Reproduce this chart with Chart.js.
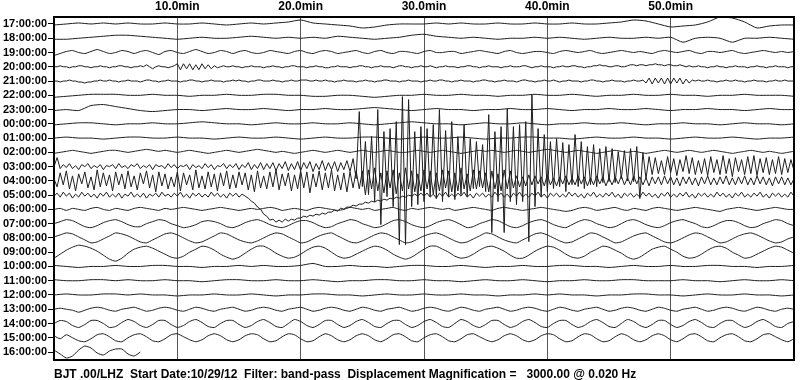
<!DOCTYPE html>
<html><head><meta charset="utf-8">
<script src="https://cdn.jsdelivr.net/npm/chart.js@4.4.0/dist/chart.umd.min.js"></script>
<style>html,body{margin:0;padding:0;background:#fff}</style>
</head><body>
<canvas id="c" width="800" height="380"></canvas>
<script>
// ---- DATA (pen displacement in pixels, positive = up) ----
const hourLabels = ["17:00:00","18:00:00","19:00:00","20:00:00","21:00:00","22:00:00","23:00:00","00:00:00","01:00:00","02:00:00","03:00:00","04:00:00","05:00:00","06:00:00","07:00:00","08:00:00","09:00:00","10:00:00","11:00:00","12:00:00","13:00:00","14:00:00","15:00:00","16:00:00"];
const minuteTicks = [10,20,30,40,50];
const minuteTickLabels = ["10.0min","20.0min","30.0min","40.0min","50.0min"];
const footerText = "BJT .00/LHZ  Start Date:10/29/12  Filter: band-pass  Displacement Magnification =   3000.00 @ 0.020 Hz";
// sample interval (minutes) of each row
const sampleMinutes = [1,1,0.5,0.25,0.25,1,1,1,1,0.5,0.25,0.25,0.25,0.5,0.5,0.5,0.5,1,1,1,0.5,0.5,0.5,0.5];

const h17 = [-1,0,1,0,1,0,1,0,0,1, 0,0,1,0,-1,0,1,0,1,2, 4,1,0,-1,-2,-4,-3,-1,0,0, 0,1,0,1,0,0,1,0,0,1, 0,0,1,0,0,1,2,4,3,0, -3,-2,-1,2,7,6,2,-4,-2,-1, -1];
const h18 = [-1,-1,0,1,2,3,3,2,1,0, -1,0,1,0,0,1,2,1,0,1, 0,1,0,2,1,0,-1,0,1,3, 4,2,1,0,1,0,-1,0,0,1, 0,1,0,-1,0,1,0,0,1,0, 1,-4,0,1,0,-4,0,0,1,0, -1];
const h19 = [-3,-1,1,2,0,-1,1,3,1,-1, 0,2,1,-1,1,2,0,-2,1,2, 0,-1,1,3,1,-1,0,2,1,-1, 1,2,0,-1,0,2,1,0,-1,1, 2,0,-1,1,2,1,-1,0,1,2, 0,-1,1,2,0,-1,1,1,0,-1, 1,2,0,0,1,1,-1,0,1,2, 1,0,-1,1,2,0,-1,0,1,1, 0,-1,1,2,1,0,1,2,0,-1, 0,1,2,1,0,1,0,-1,1,2, 1,0,1,2,0,-1,1,1,0,1, 2,0,-1,0,1,2,1,0,1,0, 1];
const h20 = [0,0,1,0,0,-1,0,0,1,1, 0,0,-1,0,0,1,0,0,-1,0, 0,1,1,0,0,-1,0,0,1,0, 2,0,-2,0,1,0,0,-1,0,1,
 3,-3,3,-2,3,-3,2,-3,3,-2, 2,-2,1,-1,0,1,0,0,1,0,
 0,-1,0,0,1,0,0,0,-1,0, 0,1,0,0,-1,0,0,1,1,0, 0,0,-1,0,0,1,0,0,-1,-1, 0,0,1,0,0,0,-1,0,0,1,
 1,0,0,-1,0,0,1,0,0,0, -1,0,1,1,0,0,-1,0,0,1, 0,0,1,0,-1,0,0,1,0,0, 0,-1,0,0,1,1,0,0,-1,0,
 0,1,0,0,0,-1,0,0,1,0, 0,0,1,1,0,-1,0,0,1,0, 0,0,-1,0,0,1,0,0,1,1, 0,0,-1,0,0,1,1,2,1,1,
 0,0,1,1,0,0,1,2,2,1, 2,2,1,2,2,3,2,2,1,2, 2,1,1,2,1,0,1,0,0,1, 0,0,-1,0,0,1,0,0,-1,0,
 0,1,0,0,0,-1,0,0,1,0, 0,-1,0,0,1,0,0,0,-1,0, 0];
const h21 = [0,0,-1,0,0,1,0,0,-1,-1, -2,-1,-1,0,0,1,0,0,1,0, 0,-1,0,0,1,0,0,0,-1,0, 1,1,0,0,-1,0,0,1,0,0,
 0,-1,0,0,1,1,0,0,-1,0, 0,1,0,0,0,-1,0,0,1,0, 1,0,0,-1,0,0,1,1,0,0, 0,1,0,0,-1,0,0,1,0,0,
 1,1,1,0,0,1,0,0,1,0, 0,-1,0,0,1,0,0,0,-1,0, 0,1,0,0,-1,0,0,1,1,0, 0,0,-1,0,0,1,0,0,0,-1,
 0,0,1,0,0,1,1,0,0,-1, 0,0,1,0,0,0,-1,0,0,1, 1,0,0,-1,0,0,1,0,0,0, -1,0,1,1,0,0,-1,0,0,1,
 0,0,1,0,-1,0,0,1,0,0, 0,-1,0,0,1,1,0,0,-1,0, 0,1,0,0,0,-1,0,0,1,0, 0,1,-2,3,-3,3,-2,3,-3,3,
 -3,3,-2,3,-3,2,-2,1,0,1, 0,0,1,0,0,-1,0,0,1,0, 0,1,0,0,-1,0,0,1,0,0, 0,-1,0,0,1,0,0,1,0,0, 0];
const h22 = [-2,-1,0,1,1,1,0,0,1,0, 0,-1,0,0,1,0,0,1,1,0, 0,-1,-1,0,0,-1,-2,-1,0,0, 1,0,0,1,0,0,-1,0,0,1, 0,0,1,0,-1,0,0,1,0,0, 1,0,0,-1,0,0,1,0,0,0, -1];
const h23 = [-1,0,-1,4,5,3,1,-1,-2,-1, 0,0,-1,0,1,0,0,1,0,-1, 0,0,1,0,0,1,2,1,0,-1, 0,1,0,0,-1,0,0,1,0,0, 1,0,-1,0,0,1,0,0,1,0, -1,0,0,1,0,0,-1,0,1,0, 0];
const h00 = [-1,0,1,1,0,-1,0,0,1,0, 0,1,2,1,0,0,-1,0,1,0, 0,1,0,0,1,0,-1,0,1,2, 1,0,0,-1,0,1,0,0,1,0, -1,0,0,1,0,0,1,0,-1,0, 0,1,0,0,-1,0,1,0,0,-1, 0];
const h01 = [0,1,0,0,-1,0,1,1,0,0, 1,0,0,-1,0,1,0,0,1,0, -1,0,1,0,0,1,1,0,-1,0, 1,0,0,1,0,-1,0,0,1,1, 0,0,-1,0,1,0,0,1,0,0, -1,0,1,0,0,1,0,-1,0,0, 1];
const h02 = [-1,0,1,2,1,0,-1,0,1,2, 2,1,0,1,2,3,2,1,2,1, 0,1,2,1,0,-1,0,1,2,1, 0,1,2,3,2,1,0,1,0,-1, 0,1,2,1,0,1,2,1,0,1, 2,1,0,1,2,1,0,0,1,2, 1,0,1,2,1,0,-1,0,1,2, 1,2,1,0,1,2,1,0,1,2, 3,2,1,0,1,2,1,0,-1,0, 1,2,1,0,1,0,-1,0,1,2, 1,0,1,2,1,0,1,2,1,0, -1,0,1,2,1,0,1,0,-1,0, 1];
const h03 = [0,9,-2,2,-1,3,-2,1,-3,2,0,3,-2,1,-1,2,-3,1,0,2,-2,3,-1,1,
 -2,2,0,3,-2,1,-1,2,-3,2,0,1,-2,3,-1,2,-2,1,0,2,-3,2,-1,1,
 -2,3,-1,2,-3,1,0,3,-2,2,-1,3,-3,2,-1,4,-3,2,-2,4,-3,3,-2,4,
 -4,3,-2,5,-4,3,-3,5,-4,4,-2,5,-5,3,-3,6,-4,4,-3,5,-5,4,-3,6,-5,
 8,-12,55,-20,25,-28,30,-35,57,-58,35,-30,38,-40,45,-78,70,-78,67,-40,35,-38,40,-35,38,-30,42,-32,57,-35,36,-30,45,-33,30,-28,42,-30,28,-22,25,-20,22,-25,52,-66,35,-35,40,-66,58,-35,40,-38,42,-35,45,-75,72,-40,38,-30,32,-25,
 25,-22,28,-20,24,-25,22,-18,32,-20,25,-22,20,-18,22,-20,18,-16,20,-15,18,-16,15,-12,16,-14,18,-15,20,-32,14,-12,
 10,-8,9,-7,6,-8,10,-6,8,-9,7,-5,11,-7,9,-8,6,-7,8,-9,10,-6,7,-8,11,-7,8,-10,9,-5,7,-8,10,-7,11,-9,8,-6,9,-8,7,-7,10,-8,8,-6,7,-4];
const h04 = [2,-6,8,-4,10,-8,5,-10,7,-3,9,-7,4,-9,11,-6,8,-5,6,-10,9,-4,7,-8,10,
 -6,5,-9,8,-3,10,-7,6,-11,9,-5,7,-8,4,-6,9,-10,8,-4,6,-9,11,-7,5,-8,
 9,-6,7,-10,8,-5,10,-8,6,-7,9,-4,8,-9,6,-11,10,-7,5,-8,9,-6,11,-9,7,
 -5,8,-10,6,-8,10,-7,9,-12,7,-6,10,-9,8,-7,11,-10,6,-9,8,-11,9,-7,10,-8,
 10,-14,11,-8,13,-10,8,-12,10,-7,11,-13,8,-10,13,-8,10,-11,7,-10,11,-8,10,-13,8,
 -10,11,-7,10,-11,8,-10,13,-8,7,-10,11,-8,10,-7,8,-11,10,-8,7,-10,11,-8,10,-7,
 5,-6,4,-5,6,-4,5,-3,4,-5,6,-4,3,-5,4,-3,5,-4,3,-4,5,-3,4,-5,3,
 -4,5,-3,4,-5,3,-4,4,-3,5,-4,3,-4,5,-3,4,-4,3,-5,4,-3,4,-4,5,-3,
 4,-4,3,-5,4,-3,4,-4,3,-5,4,-3,5,-4,3,-4,4,-3,5,-4,3,-4,4,-3,5,
 -4,3,-4,5,-3,4,-4,3,-5,4,-3,4,-4,3,-4,2];
const h05 = [-1,2,-2,3,-1,2,-3,1,-2,3,-1,2,-2,1,-3,2,-1,3,-2,1,-2,2,-3,1,-1,
 3,-2,1,-2,2,-3,1,-1,2,-2,3,-1,1,-2,2,-1,3,-2,1,-3,2,-1,2,-2,1,
 -2,3,-1,2,-2,1,-3,2,-1,2,-2,1,
 -1,-3,-6,-8,-12,-14,-19,-21,-25,-24,-27,-25,-27,-24,-26,-24,-25,-23,-23,-21,-22,-20,-21,-19,-20,-18,-19,-17,-17,-15,-16,-13,-14,-12,-12,-10,-11,-9,
 -9,-7,-8,-6,-7,-5,-6,-4,-5,-3,-4,-2,-3,-1,-2,0,-1,1,-1,2,-1,
 2,-2,1,-3,2,-1,3,-2,1,-2, 2,-1,3,-2,1,-3,2,-1,2,-2, 1,-2,3,-1,2,-2,1,-3,2,-1, 3,-2,1,-2,2,-1,3,-2,1,-3,
 2,-1,2,-2,1,-2,3,-1,2,-2, 1,-3,2,-1,3,-2,1,-2,2,-1, 3,-2,1,-3,2,-1,2,-2,1,-2, 3,-1,2,-2,1,-3,2,-1,3,-2,
 1,-2,2,-1,3,-2,1,-3,2,-1, 2,-2,1,-2,3,-1,2,-2,1,-3, 2,-1,3,-2,1,-2,2,-1,3,-2, 1,-3,2,-1,2,-2,1,-2,3,-1];
const h06 = [0,1,-1,1,0,-1,1,2,0,-1, 1,0,-1,1,2,1,0,-1,1,0, 1,2,1,0,-1,0,1,2,1,0, -1,0,1,0,1,2,1,-1,0,1, 0,-1,1,2,1,0,-1,0,2,1, 0,1,-1,0,1,2,0,-1,1,0, 1,2,1,0,1,-1,0,1,2,1, 0,-1,1,2,1,0,-1,0,1,2, 1,0,-1,-2,-1,1,2,1,-1,0, 1,2,0,-1,1,0,-1,1,2,1, 0,-1,0,1,2,1,0,-1,-2,0, 1,2,1,0,-1,0,1,2,1,0, 0];
const h07 = [0,2,4,3,0,-3,-4,-2,1,3, 4,2,-1,-3,-3,0,2,4,3,0, -2,-4,-3,-1,2,3,2,0,-3,-4, -2,1,3,4,2,-1,-3,-4,-2,1, 3,3,1,-2,-4,-3,0,2,4,3, 0,-2,-4,-3,0,3,4,2,-1,-3, -4,-2,1,3,4,2,-1,-4,-3,0, 2,4,3,0,-3,-4,-2,1,3,4, 2,-1,-3,-4,-1,2,4,3,0,-2, -4,-3,0,3,4,2,-1,-3,-4,-2, 1,3,4,2,0,-3,-4,-2,1,3, 3,1,-2,-4,-3,0,2,4,3,0, -2];
const h08 = [1,3,5,4,1,-2,-5,-4,-1,2, 5,4,2,-1,-4,-5,-2,1,4,5, 3,0,-3,-5,-4,-1,2,5,4,1, -2,-4,-5,-3,0,3,5,4,1,-2, -5,-4,-1,2,4,5,2,-1,-4,-5, -3,0,3,5,4,1,-2,-5,-4,-1, 2,4,5,3,0,-3,-5,-4,-1,2, 5,4,1,-2,-4,-5,-2,1,4,5, 3,0,-3,-5,-4,-1,2,5,4,1, -2,-5,-4,-1,2,4,5,2,-1,-4, -5,-3,0,3,5,4,1,-2,-5,-4, -1,2,4,5,3,0,-3,-5,-4,-1, 1];
const h09 = [-6,-2,2,5,7,6,4,1,-3,-7, -9,-6,-1,3,5,6,4,1,-2,-5, -6,-4,0,3,6,5,2,-2,-5,-7, -5,-1,3,6,6,3,-1,-4,-6,-5, -2,2,5,6,4,0,-4,-6,-5,-2, 1,4,6,5,2,-2,-5,-7,-5,-1, 3,6,6,3,0,-4,-6,-5,-2,2, 5,6,4,1,-3,-6,-6,-3,1,4, 6,5,2,-2,-5,-6,-4,0,3,6, 5,2,-1,-5,-7,-5,-1,3,5,6, 3,0,-4,-6,-5,-2,2,5,6,4, 0,-3,-6,-5,-2,1,4,6,5,2, -1];
const h10 = [1,0,-1,0,0,1,0,0,1,1, 0,0,-1,0,0,1,0,1,0,0, 1,3,0,0,1,0,0,-1,0,1, 1,0,0,1,0,-1,0,0,1,0, 0,1,1,0,0,-1,0,1,0,0, 1,0,0,1,1,0,0,-1,0,0, 1];
const h11 = [1,0,0,1,1,0,1,0,0,1, 0,0,-1,0,1,1,0,0,1,0, 0,1,0,-1,0,0,1,1,0,0, 1,0,0,-1,0,1,0,0,1,0, -1,0,0,1,0,0,1,1,0,0, 0,1,0,0,-1,0,1,0,0,1, 0];
const h12 = [0,1,0,0,1,1,0,1,0,0, -1,0,0,1,0,0,1,0,-1,0, 0,1,1,0,0,-1,0,1,0,0, 1,0,0,1,0,0,-1,0,0,1, 0,1,0,0,-1,0,0,1,1,0, 0,-1,0,1,0,0,1,0,0,-1, 0];
const h13 = [0,1,0,-1,-3,-1,1,2,1,-1, -2,0,1,2,0,-2,-1,1,2,1, -1,-2,0,2,1,-1,-2,0,1,2, 0,-2,-1,1,2,1,-1,-2,0,1, 2,0,-2,-1,1,2,1,-1,-2,0, 2,1,-1,-2,0,1,2,0,-2,-1, 1,2,1,-1,-2,0,2,1,-1,-2, 0,1,2,0,-2,-1,1,2,1,-1, -2,0,2,1,-1,-2,0,1,2,0, -2,-1,1,2,1,-1,-2,0,2,1, -1,-2,0,1,2,0,-2,-1,1,2, 1,-1,-2,0,2,1,-1,-2,0,1, 0];
const h14 = [0,3,2,-2,-4,-1,3,3,0,-4, -3,1,4,2,-2,-4,-1,3,3,-1, -4,-2,2,4,1,-3,-4,0,3,3, -1,-4,-2,2,4,1,-3,-4,0,4, 2,-2,-4,-1,3,3,-1,-4,-2,2, 4,1,-3,-4,0,3,3,-1,-4,-2, 2,4,1,-3,-4,0,4,2,-2,-4, -1,3,3,-1,-4,-2,2,4,1,-3, -4,0,3,3,-1,-4,-2,2,4,1, -3,-4,0,4,2,-2,-4,-1,3,3, -1,-4,-2,2,4,1,-3,-4,0,3, 3,-1,-4,-2,2,4,1,-3,-4,0, 2];
const h15 = [2,-1,3,0,-3,-4,-1,3,4,1, -3,-4,0,3,4,1,-3,-4,-1,3, 4,1,-2,-4,-2,2,4,2,-2,-4, -2,2,4,3,-1,-4,-3,1,4,3, -1,-4,-3,1,4,2,-2,-4,-2,2, 4,2,-2,-4,-1,3,4,1,-3,-4, 0,3,4,1,-3,-4,-1,3,4,1, -2,-4,-2,2,4,2,-2,-4,-2,2, 4,3,-1,-4,-3,1,4,3,-1,-4, -3,1,4,2,-2,-4,-2,2,4,2, -2,-4,-1,3,4,1,-3,-4,0,3, 4,1,-3,-4,-1,3,4,1,-2,-4, -1];
const h16 = [2,-2,-6,-4,2,6,4,-1,-3,1,3,3,-2,-4,0];

const traces = [h17,h18,h19,h20,h21,h22,h23,h00,h01,h02,h03,h04,h05,h06,h07,h08,h09,h10,h11,h12,h13,h14,h15,h16];

// ---- CHART ----
const ROW_PX = 343 / 24.05; // pixels per trace row (display gain)
const datasets = traces.map((vals, row) => ({
  data: vals.map((v, j) => ({ x: j * sampleMinutes[row], y: row - v / ROW_PX })),
  borderColor: '#1e1e1e',
  borderWidth: 1,
  pointRadius: 0,
  fill: false,
  tension: sampleMinutes[row] >= 0.5 ? 0.2 : 0
}));

const frameAndFooter = {
  id: 'frameAndFooter',
  afterDraw(chart) {
    const { ctx, chartArea: a } = chart;
    ctx.save();
    ctx.strokeStyle = '#000';
    ctx.lineWidth = 2;
    ctx.strokeRect(a.left, a.top, a.right - a.left, a.bottom - a.top);
    ctx.fillStyle = '#000';
    ctx.font = 'bold 12px "Liberation Sans", Arial, Helvetica, sans-serif';
    ctx.textBaseline = 'alphabetic';
    ctx.textAlign = 'left';
    ctx.fillText(footerText, a.left, 378);
    ctx.restore();
  }
};

new Chart(document.getElementById('c'), {
  type: 'line',
  data: { datasets },
  options: {
    responsive: false,
    animation: false,
    devicePixelRatio: 1,
    layout: { padding: { left: 0, right: 6, top: 0, bottom: 20 } },
    plugins: { legend: { display: false }, tooltip: { enabled: false }, title: { display: false } },
    scales: {
      x: {
        type: 'linear', position: 'top', min: 0, max: 60,
        afterBuildTicks: s => { s.ticks = minuteTicks.map(v => ({ value: v })); },
        afterFit: s => { s.height = 17; },
        ticks: {
          autoSkip: false, maxRotation: 0, padding: 3, color: '#000',
          font: { family: '"Liberation Sans", Arial, Helvetica, sans-serif', size: 12, weight: 'bold' },
          callback: v => minuteTickLabels[minuteTicks.indexOf(v)]
        },
        grid: { color: '#555', lineWidth: 1, drawTicks: false },
        border: { display: false }
      },
      y: {
        type: 'linear', reverse: true, min: -0.49, max: 23.56,
        afterBuildTicks: s => { s.ticks = hourLabels.map((_, i) => ({ value: i })); },
        afterFit: s => { s.width = 54; },
        ticks: {
          autoSkip: false, padding: 1, color: '#000',
          font: { family: '"Liberation Sans", Arial, Helvetica, sans-serif', size: 11, weight: 'bold' },
          callback: v => hourLabels[v]
        },
        grid: { drawOnChartArea: false, drawTicks: true, tickLength: 6, color: '#000', lineWidth: 1 },
        border: { display: false }
      }
    }
  },
  plugins: [frameAndFooter]
});
</script>
</body></html>
